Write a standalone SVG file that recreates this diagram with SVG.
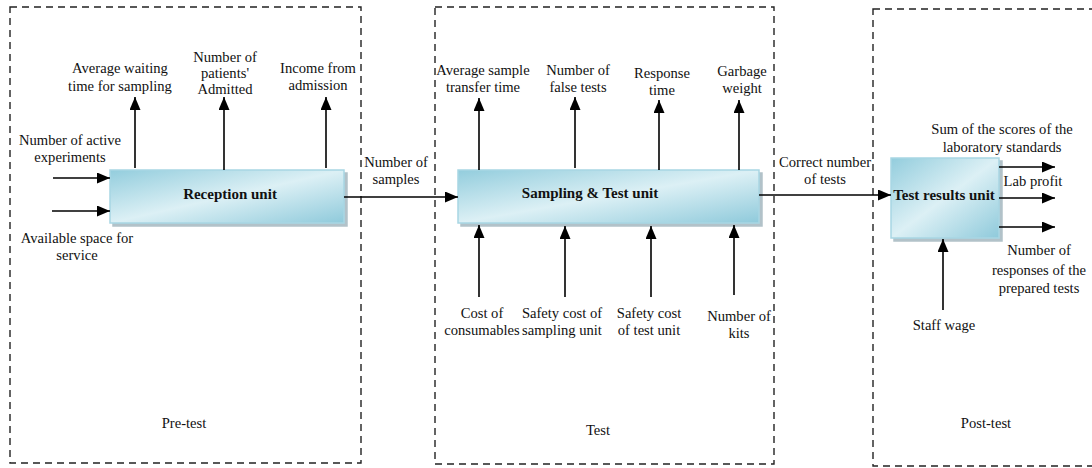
<svg xmlns="http://www.w3.org/2000/svg" width="1092" height="468" viewBox="0 0 1092 468">
<defs>
<linearGradient id="g" x1="0" y1="0" x2="1" y2="1">
<stop offset="0" stop-color="#93cddd"/>
<stop offset="0.5" stop-color="#dcf0f5"/>
<stop offset="1" stop-color="#8fcadb"/>
</linearGradient>
<marker id="ah" viewBox="0 0 13 11" refX="13" refY="5.5" markerWidth="13" markerHeight="11" markerUnits="userSpaceOnUse" orient="auto">
<path d="M0,0 L13,5.5 L0,11 Z" fill="#000"/>
</marker>
<filter id="sh" x="-10%" y="-10%" width="130%" height="140%">
<feOffset dx="3" dy="3" in="SourceAlpha" result="o"/>
<feFlood flood-color="#7f9aa4" flood-opacity="0.6"/>
<feComposite in2="o" operator="in"/>
<feMerge><feMergeNode/><feMergeNode in="SourceGraphic"/></feMerge>
</filter>
</defs>
<style>
.zone{fill:none;stroke:#222;stroke-width:1.4;stroke-dasharray:7,5}
.unit{fill:url(#g);stroke:#a8d6e3;stroke-width:1.5;filter:url(#sh)}
.t{font-family:'Liberation Serif','Times New Roman',Times,serif;font-size:14.6px;fill:#111;text-anchor:middle}
.b{font-weight:bold;font-size:15px}
.c line{stroke:#000;stroke-width:1.6;marker-end:url(#ah)}
</style>
<rect width="1092" height="468" fill="#fff"/>
<g id="zone-pretest">
<rect class="zone" x="10" y="7" width="351" height="456"/>
<text class="t" x="184" y="428">Pre-test</text>
</g>
<g id="zone-test">
<rect class="zone" x="435" y="7" width="339" height="457"/>
<text class="t" x="598" y="435">Test</text>
</g>
<g id="zone-posttest">
<rect class="zone" x="873" y="9" width="230" height="457"/>
<text class="t" x="986" y="428">Post-test</text>
</g>
<g id="reception-unit">
<rect class="unit" x="110" y="170" width="234" height="53"/>
<text class="t b" x="230" y="199">Reception unit</text>
</g>
<g id="sampling-test-unit">
<rect class="unit" x="458" y="170" width="301" height="53"/>
<text class="t b" x="590" y="198">Sampling &amp; Test unit</text>
</g>
<g id="test-results-unit">
<rect class="unit" x="891" y="158" width="108" height="80"/>
<text class="t b" x="944" y="200">Test results unit</text>
</g>
<g id="connectors" class="c">
<line x1="53" y1="178" x2="110" y2="178"/>
<line x1="52" y1="211" x2="110" y2="211"/>
<line x1="135" y1="168" x2="135" y2="97"/>
<line x1="224" y1="170" x2="224" y2="97"/>
<line x1="326" y1="168" x2="326" y2="97"/>
<line x1="344" y1="197" x2="458" y2="197"/>
<line x1="479" y1="170" x2="479" y2="98"/>
<line x1="575" y1="168" x2="575" y2="97"/>
<line x1="659" y1="170" x2="659" y2="100"/>
<line x1="739" y1="170" x2="739" y2="100"/>
<line x1="479" y1="297" x2="479" y2="225"/>
<line x1="565" y1="297" x2="565" y2="226"/>
<line x1="651" y1="297" x2="651" y2="226"/>
<line x1="734" y1="295" x2="734" y2="225"/>
<line x1="759" y1="195" x2="891" y2="195"/>
<line x1="999" y1="167" x2="1055" y2="167"/>
<line x1="999" y1="198" x2="1055" y2="198"/>
<line x1="999" y1="227" x2="1055" y2="227"/>
<line x1="943" y1="310" x2="943" y2="239"/>
</g>
<g id="labels">
<text class="t" x="120" y="73">Average waiting</text>
<text class="t" x="120" y="91">time for sampling</text>
<text class="t" x="225" y="62">Number of</text>
<text class="t" x="225" y="78">patients'</text>
<text class="t" x="225" y="94">Admitted</text>
<text class="t" x="318" y="73">Income from</text>
<text class="t" x="318" y="90">admission</text>
<text class="t" x="70" y="145">Number of active</text>
<text class="t" x="70" y="162">experiments</text>
<text class="t" x="77" y="243">Available space for</text>
<text class="t" x="77" y="260">service</text>
<text class="t" x="396" y="167">Number of</text>
<text class="t" x="396" y="184">samples</text>
<text class="t" x="483" y="75">Average sample</text>
<text class="t" x="483" y="92">transfer time</text>
<text class="t" x="578" y="75">Number of</text>
<text class="t" x="578" y="92">false tests</text>
<text class="t" x="662" y="78">Response</text>
<text class="t" x="662" y="95">time</text>
<text class="t" x="742" y="76">Garbage</text>
<text class="t" x="742" y="93">weight</text>
<text class="t" x="825" y="167">Correct number</text>
<text class="t" x="825" y="184">of tests</text>
<text class="t" x="1002" y="134">Sum of the scores of the</text>
<text class="t" x="1002" y="152">laboratory standards</text>
<text class="t" x="1033" y="186">Lab profit</text>
<text class="t" x="1039" y="255">Number of</text>
<text class="t" x="1039" y="275">responses of the</text>
<text class="t" x="1039" y="293">prepared tests</text>
<text class="t" x="482" y="318">Cost of</text>
<text class="t" x="482" y="335">consumables</text>
<text class="t" x="562" y="318">Safety cost of</text>
<text class="t" x="562" y="335">sampling unit</text>
<text class="t" x="649" y="318">Safety cost</text>
<text class="t" x="649" y="335">of test unit</text>
<text class="t" x="739" y="321">Number of</text>
<text class="t" x="739" y="338">kits</text>
<text class="t" x="944" y="330">Staff wage</text>
</g>
</svg>
